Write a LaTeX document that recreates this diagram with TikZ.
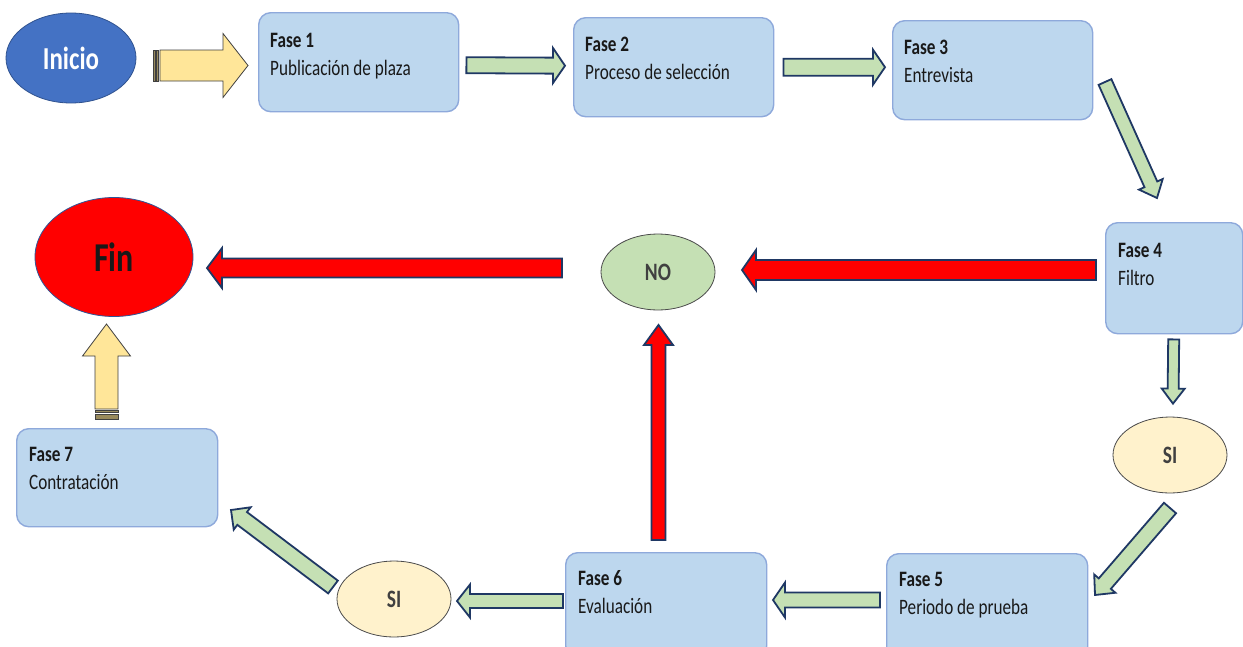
\documentclass[tikz,border=0pt]{standalone}
\usepackage{fontspec}
\setmainfont{Carlito}[FakeStretch=0.78]
\usetikzlibrary{shapes.geometric,calc}
\definecolor{boxfill}{HTML}{BDD7EE}
\definecolor{boxline}{HTML}{8EA9DB}
\definecolor{grn}{HTML}{C5E0B4}
\definecolor{navy}{HTML}{1F3864}
\definecolor{ylw}{HTML}{FFE699}
\definecolor{cream}{HTML}{FFF2CC}
\definecolor{iniblue}{HTML}{4472C4}
\definecolor{inibord}{HTML}{2F528F}
\definecolor{finbord}{HTML}{2F5597}
\newcommand\blockarrow[6]{%
  \draw[#1] let \p1=(#2), \p2=(#3), \n1={atan2(\y2-\y1,\x2-\x1)}, \n2={veclen(\x2-\x1,\y2-\y1)} in
  [shift={(\p1)}, rotate=\n1]
  (0,-#4) -- ({\n2-#6},-#4) -- ({\n2-#6},-#5) -- (\n2,0) -- ({\n2-#6},#5) -- ({\n2-#6},#4) -- (0,#4) -- cycle;}
\begin{document}
\begin{tikzpicture}[x=1pt,y=-1pt,
  phase/.style={draw=boxline, fill=boxfill, line width=1.4pt, rounded corners=12pt,
    minimum width=200pt, minimum height=99pt, anchor=north west, inner sep=0pt},
  ptext/.style={anchor=base west, inner sep=0pt, text=black!90, font=\fontsize{22}{28.5}\selectfont},
  garrow/.style={draw=navy, fill=grn, line width=1.8pt, line join=miter},
  rarrow/.style={draw=navy, fill=red, line width=1.8pt, line join=miter},
  yarrow/.style={draw=black!75, fill=ylw, line width=0.8pt, line join=miter},
  oval/.style={ellipse, inner sep=0pt},
  decision/.style={oval, draw=black!70, line width=0.8pt, minimum width=114pt, minimum height=76pt,
    text=black!75, font=\fontsize{25}{27}\selectfont\bfseries}
]
\clip (0,0) rectangle (1243,646);
\fill[white] (0,0) rectangle (1243,646);

% start / end
\node[oval, fill=iniblue, draw=inibord, line width=0.8pt, minimum width=130pt, minimum height=90pt,
  text=white, font=\fontsize{32}{34}\selectfont\bfseries] (ini) at (71,58) {Inicio};
\node[oval, fill=red, draw=finbord, line width=0.8pt, minimum width=158pt, minimum height=119pt,
  text=black!90, font=\fontsize{41}{43}\selectfont\bfseries] (fin) at (114,257) {Fin};

% phases
\node[phase] (f1) at (258,12) {};
\node[phase] (f2) at (573,17) {};
\node[phase] (f3) at (892,20) {};
\node[phase, minimum width=137pt, minimum height=111pt] (f4) at (1105,222) {};
\node[phase, minimum width=201pt, minimum height=105pt] (f5) at (886,553) {};
\node[phase, minimum width=201pt, minimum height=105pt] (f6) at (565,552) {};
\node[phase, minimum width=201pt, minimum height=98pt] (f7) at (16,428) {};

\node[ptext] (t1) at ($(f1.north west)+(12,35)$) {\begin{tabular}[t]{@{}l@{}}\textbf{Fase 1}\\Publicación de plaza\end{tabular}};
\node[ptext] (t2) at ($(f2.north west)+(12,34)$) {\begin{tabular}[t]{@{}l@{}}\textbf{Fase 2}\\Proceso de selección\end{tabular}};
\node[ptext] (t3) at ($(f3.north west)+(12,34)$) {\begin{tabular}[t]{@{}l@{}}\textbf{Fase 3}\\Entrevista\end{tabular}};
\node[ptext] (t4) at ($(f4.north west)+(13,35)$) {\begin{tabular}[t]{@{}l@{}}\textbf{Fase 4}\\Filtro\end{tabular}};
\node[ptext] (t5) at ($(f5.north west)+(13,33)$) {\begin{tabular}[t]{@{}l@{}}\textbf{Fase 5}\\Periodo de prueba\end{tabular}};
\node[ptext] (t6) at ($(f6.north west)+(13,33)$) {\begin{tabular}[t]{@{}l@{}}\textbf{Fase 6}\\Evaluación\end{tabular}};
\node[ptext] (t7) at ($(f7.north west)+(13,33)$) {\begin{tabular}[t]{@{}l@{}}\textbf{Fase 7}\\Contratación\end{tabular}};

% decisions
\node[decision, fill=grn] (no) at (658,272) {NO};
\node[decision, fill=cream] (si1) at (1170,455) {SI};
\node[decision, fill=cream] (si2) at (394,599) {SI};

% arrow end points
\coordinate (a1s) at ($(f1.east)+(7,3)$);   \coordinate (a1e) at ($(f2.west)+(-8,-1.5)$);
\coordinate (a2s) at ($(f2.east)+(9,0)$);   \coordinate (a2e) at ($(f3.west)+(-7,-3)$);
\coordinate (a3s) at (1105,82);             \coordinate (a3e) at (1157,198);
\coordinate (a4s) at ($(f4.south)+(-0.5,5)$); \coordinate (a4e) at ($(si1.north)+(3,-13)$);
\coordinate (a5s) at (1170,508);            \coordinate (a5e) at (1095,595);
\coordinate (a6s) at (880,600);             \coordinate (a6e) at (773,600);
\coordinate (a7s) at (563,601);             \coordinate (a7e) at (457,601);
\coordinate (a8s) at (333,587);             \coordinate (a8e) at (231,510);
\coordinate (r1s) at (1096,270);            \coordinate (r1e) at (742,270);
\coordinate (r2s) at (562,268);             \coordinate (r2e) at (207,268);
\coordinate (r3s) at (658.5,540);           \coordinate (r3e) at (658.5,325);
\coordinate (y1s) at (160,65.5);            \coordinate (y1e) at (248,65.5);
\coordinate (y2s) at (106.5,409);           \coordinate (y2e) at (106.5,324);

% green arrows
\blockarrow{garrow}{a1s}{a1e}{8}{17.5}{12}
\blockarrow{garrow}{a2s}{a2e}{8.5}{17.5}{12}
\blockarrow{garrow}{a3s}{a3e}{7}{13}{15}
\blockarrow{garrow}{a4s}{a4e}{5.5}{11.5}{15}
\blockarrow{garrow}{a5s}{a5e}{8}{14}{15}
\blockarrow{garrow}{a6s}{a6e}{7.5}{17.5}{12}
\blockarrow{garrow}{a7s}{a7e}{7}{16.5}{13}
\blockarrow{garrow}{a8s}{a8e}{8}{14}{14}

% red arrows
\blockarrow{rarrow}{r1s}{r1e}{10}{20}{14}
\blockarrow{rarrow}{r2s}{r2e}{9.5}{20}{15}
\blockarrow{rarrow}{r3s}{r3e}{7}{14.5}{20}

% yellow striped arrows
\blockarrow{yarrow}{y1s}{y1e}{15.5}{32}{25}
\draw[yarrow, fill=ylw!60!black] (153,50) rectangle (155,81);
\draw[yarrow, fill=ylw!60!black] (156.5,50) rectangle (158.5,81);
\blockarrow{yarrow}{y2s}{y2e}{11.5}{24}{32}
\draw[yarrow, fill=ylw!60!black] (95,410.5) rectangle (118,412.5);
\draw[yarrow, fill=ylw!60!black] (95,414.5) rectangle (118,419.5);
\end{tikzpicture}
\end{document}
